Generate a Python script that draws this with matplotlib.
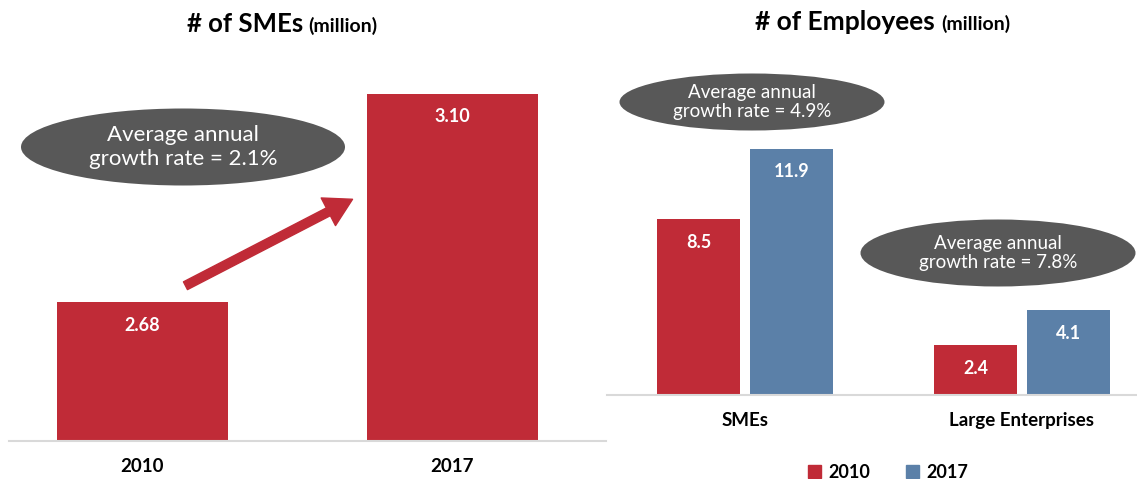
import matplotlib
matplotlib.use("Agg")
import matplotlib.pyplot as plt
from matplotlib.patches import Ellipse, Patch, FancyArrowPatch

plt.rcParams['font.family'] = ['Lato', 'DejaVu Sans']

# data
years = ['2010', '2017']
smes_count = [2.68, 3.10]
emp_groups = ['SMEs', 'Large Enterprises']
emp_2010 = [8.5, 2.4]
emp_2017 = [11.9, 4.1]
growth_smes = '2.1%'
growth_emp = ['4.9%', '7.8%']

RED = '#C02B37'
BLUE = '#5B80A8'
GREY = '#585858'
W, H = 1137, 479

fig = plt.figure(figsize=(W / 100, H / 100), dpi=100)


def fx(px):
    return px / W


def fy(py):
    return 1 - py / H


def style(ax):
    for s in ['top', 'right', 'left']:
        ax.spines[s].set_visible(False)
    ax.spines['bottom'].set_color('#D9D9D9')
    ax.spines['bottom'].set_linewidth(1.5)
    ax.set_yticks([])
    ax.tick_params(axis='x', length=0, pad=12)
    for t in ax.get_xticklabels():
        t.set_fontweight('bold')
        t.set_fontsize(13.5)


def label_bars(ax, bars, fmt):
    for b in bars:
        ax.annotate(fmt.format(b.get_height()), (b.get_x() + b.get_width() / 2, b.get_height()),
                    xytext=(0, -16.5), textcoords='offset points', ha='center', va='center',
                    color='white', fontsize=13, fontweight='bold')


# left chart: number of SMEs
ax1 = fig.add_axes([fx(9), fy(441), fx(606 - 9), (441 - 60) / H])
b1 = ax1.bar(range(len(years)), smes_count, width=0.55, color=RED)
ax1.set_xlim(-0.43, 1.495)
ax1.set_ylim(2.4, 3.168)
ax1.set_xticks(range(len(years)))
ax1.set_xticklabels(years)
style(ax1)
label_bars(ax1, b1, '{:.2f}')

# right chart: employees
ax2 = fig.add_axes([fx(607), fy(395), fx(1137 - 607), (395 - 60) / H])
xs = range(len(emp_groups))
b2 = ax2.bar([x - 0.168 for x in xs], emp_2010, width=0.30, color=RED, label='2010')
b3 = ax2.bar([x + 0.168 for x in xs], emp_2017, width=0.30, color=BLUE, label='2017')
ax2.set_xlim(-0.50, 1.416)
ax2.set_ylim(0, 16.2)
ax2.set_xticks(list(xs))
ax2.set_xticklabels(emp_groups)
style(ax2)
label_bars(ax2, b2, '{:.1f}')
label_bars(ax2, b3, '{:.1f}')

# titles
fig.text(fx(303), fy(32), '# of SMEs', ha='right', va='baseline', fontsize=18.5, fontweight='bold')
fig.text(fx(308), fy(32), '(million)', ha='left', va='baseline', fontsize=14, fontweight='bold')
fig.text(fx(935), fy(30), '# of Employees', ha='right', va='baseline', fontsize=19, fontweight='bold')
fig.text(fx(941), fy(30), '(million)', ha='left', va='baseline', fontsize=14, fontweight='bold')


# growth ellipses
def bubble(cx, cy, w, h, rate, size, ls):
    fig.add_artist(Ellipse((fx(cx), fy(cy)), w / W, h / H, transform=fig.transFigure,
                           facecolor=GREY, edgecolor='none'))
    fig.text(fx(cx), fy(cy), 'Average annual\ngrowth rate = ' + rate, ha='center', va='center',
             color='white', fontsize=size, linespacing=ls)


bubble(183, 147, 324, 77, growth_smes, 16, 1.3)
bubble(752, 102, 265, 57, growth_emp[0], 13.5, 1.2)
bubble(998, 253, 275, 67, growth_emp[1], 13.5, 1.2)

# arrow
fig.add_artist(FancyArrowPatch(
    (fx(183), fy(287)), (fx(355), fy(198)), transform=fig.transFigure,
    arrowstyle='simple,head_width=1.6,head_length=1.4,tail_width=0.45',
    mutation_scale=14, color=RED))

# legend
handles = [Patch(color=RED, label='2010'), Patch(color=BLUE, label='2017')]
fig.legend(handles=handles, loc='center', bbox_to_anchor=(fx(888), fy(472)), ncol=2,
           frameon=False, handlelength=0.7, handleheight=0.7, handletextpad=0.4,
           columnspacing=2.0, prop={'size': 13, 'weight': 'bold'})

fig.savefig('out.png', dpi=100)
